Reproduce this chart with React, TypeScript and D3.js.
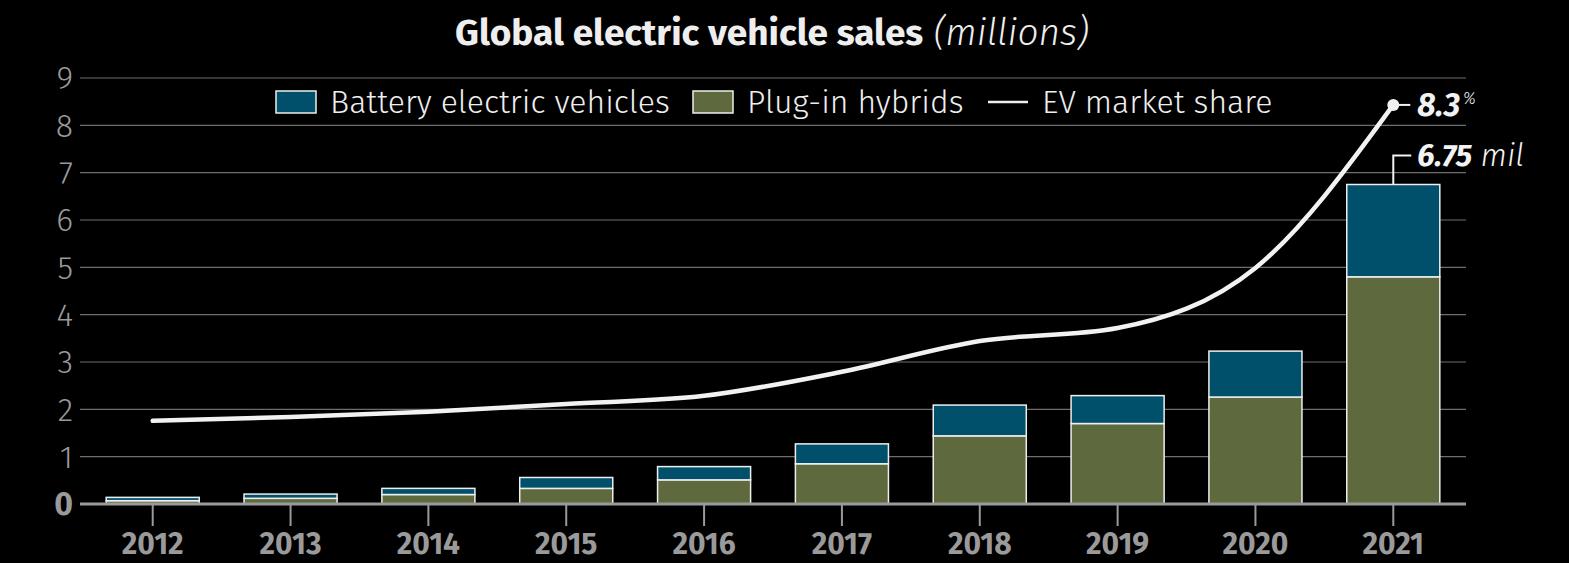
import React from "react";
import * as d3 from "d3";

const years = ["2012", "2013", "2014", "2015", "2016", "2017", "2018", "2019", "2020", "2021"];
const phev = [0.07, 0.12, 0.2, 0.33, 0.51, 0.85, 1.44, 1.7, 2.26, 4.8];
const bev = [0.07, 0.09, 0.13, 0.23, 0.28, 0.42, 0.65, 0.59, 0.97, 1.95];
const share = [1.73, 1.81, 1.92, 2.08, 2.25, 2.75, 3.39, 3.66, 4.91, 8.3];
const yTicks = [0, 1, 2, 3, 4, 5, 6, 7, 8, 9];

const W = 1569;
const H = 563;
const FONT = "'Fira Sans', 'Noto Sans', 'Open Sans', sans-serif";
const BEV_COLOR = "#00506b";
const PHEV_COLOR = "#5e693d";

export default function App() {
  const left = 80;
  const right = 1466;
  const top = 78;
  const bottom = 504;

  const x = d3.scaleBand<string>().domain(years).range([left, right]).paddingInner(0.325).paddingOuter(0.19);
  const y = d3.scaleLinear().domain([0, 9]).range([bottom, top]);
  const y2 = d3.scaleLinear().domain([0, 8.86]).range([bottom, top]);
  const bw = x.bandwidth();
  const cx = (yr: string) => (x(yr) as number) + bw / 2;

  const line = d3
    .line<number>()
    .x((_, i) => cx(years[i]))
    .y((d) => y2(d))
    .curve(d3.curveMonotoneX);

  const lastYear = years[years.length - 1];
  const lastShare = share[share.length - 1];
  const lastTotal = phev[phev.length - 1] + bev[bev.length - 1];
  const dotX = cx(lastYear);
  const dotY = y2(lastShare);
  const totY = y(lastTotal);

  return (
    <svg width={W} height={H} style={{ display: "block", position: "absolute", left: 0, top: 0, background: "#000" }}>
      <rect x={0} y={0} width={W} height={H} fill="#000" />
      <text x={772} y={45} textAnchor="middle" fontFamily={FONT} fontSize={37} fill="#eee">
        <tspan fontWeight={700}>Global electric vehicle sales</tspan>
        <tspan fontWeight={300} fontStyle="italic"> (millions)</tspan>
      </text>

      {yTicks.map((t) => (
        <g key={t}>
          {t !== 0 && <line x1={left} x2={right} y1={y(t)} y2={y(t)} stroke="#6e6e6e" strokeWidth={1.2} />}
          <text
            x={73}
            y={y(t)}
            dy="0.35em"
            textAnchor="end"
            fontFamily={FONT}
            fontSize={32}
            fontWeight={t === 0 ? 700 : 300}
            fill="#9a9a9a"
          >
            {t}
          </text>
        </g>
      ))}

      {years.map((yr, i) => {
        const x0 = x(yr) as number;
        return (
          <g key={yr}>
            <rect x={x0} y={y(phev[i])} width={bw} height={y(0) - y(phev[i])} fill={PHEV_COLOR} stroke="#eee" strokeWidth={1.5} />
            <rect
              x={x0}
              y={y(phev[i] + bev[i])}
              width={bw}
              height={y(phev[i]) - y(phev[i] + bev[i])}
              fill={BEV_COLOR}
              stroke="#eee"
              strokeWidth={1.5}
            />
          </g>
        );
      })}

      <line x1={left} x2={right} y1={y(0)} y2={y(0)} stroke="#9a9a9a" strokeWidth={3} />
      {years.map((yr) => (
        <g key={"t" + yr}>
          <line x1={cx(yr)} x2={cx(yr)} y1={y(0)} y2={y(0) + 22} stroke="#9a9a9a" strokeWidth={2} />
          <text x={cx(yr)} y={554} textAnchor="middle" fontFamily={FONT} fontSize={30} fontWeight={700} fill="#9a9a9a">
            {yr}
          </text>
        </g>
      ))}

      <path d={line(share) || ""} fill="none" stroke="#f2f2f2" strokeWidth={4.5} strokeLinecap="round" />
      <circle cx={dotX} cy={dotY} r={6} fill="#f2f2f2" />
      <line x1={dotX} x2={dotX + 17} y1={dotY} y2={dotY} stroke="#f2f2f2" strokeWidth={2} />
      <text x={dotX + 24} y={dotY + 11} fontFamily={FONT} fontSize={32} fill="#f2f2f2" fontStyle="italic">
        <tspan fontWeight={700}>{lastShare}</tspan>
        <tspan fontWeight={300} fontSize={16} dy={-12} dx={3}>%</tspan>
      </text>

      <path
        d={`M${dotX},${totY} V${totY - 29} H${dotX + 18}`}
        fill="none"
        stroke="#f2f2f2"
        strokeWidth={2}
      />
      <text x={dotX + 24} y={totY - 19} fontFamily={FONT} fontSize={31} fill="#f2f2f2" fontStyle="italic">
        <tspan fontWeight={700}>{lastTotal.toFixed(2)}</tspan>
        <tspan fontWeight={300}> mil</tspan>
      </text>

      <g fontFamily={FONT} fontSize={32} fontWeight={300} fill="#eee">
        <rect x={276} y={91} width={40} height={22} fill={BEV_COLOR} stroke="#eee" strokeWidth={1.5} />
        <text x={330} y={102} dy="0.35em">Battery electric vehicles</text>
        <rect x={693} y={91} width={40} height={22} fill={PHEV_COLOR} stroke="#eee" strokeWidth={1.5} />
        <text x={747} y={102} dy="0.35em">Plug-in hybrids</text>
        <line x1={988} x2={1028} y1={102} y2={102} stroke="#eee" strokeWidth={2.5} />
        <text x={1042} y={102} dy="0.35em">EV market share</text>
      </g>
    </svg>
  );
}
